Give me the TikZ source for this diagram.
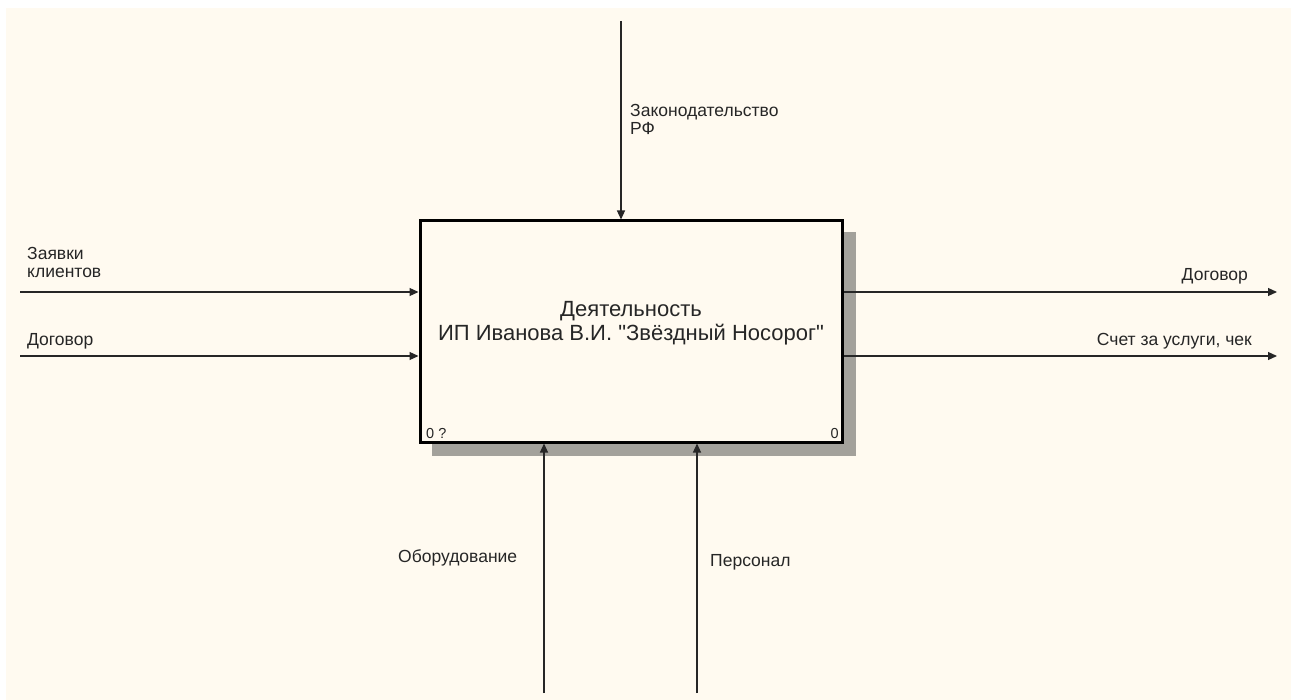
\documentclass[tikz,border=0pt]{standalone}
\usepackage{fontspec}
\setmainfont{Liberation Sans}
\usetikzlibrary{arrows.meta}
\definecolor{bgcream}{HTML}{FFFAF0}
\definecolor{shadowgray}{HTML}{A3A19B}
\newcommand\sq{\XeTeXglyph\XeTeXcharglyph"0022\relax}
\tikzset{
  flow/.style={line width=1.2pt, draw=black!85, -{Triangle[length=9pt,width=8pt]}},
  lbl/.style={font=\fontsize{17.5}{18.5}\selectfont, inner sep=0pt, align=left, text=black!85},
  lblr/.style={font=\fontsize{17.5}{18.5}\selectfont, inner sep=0pt, align=right, text=black!85},
  corner/.style={font=\fontsize{14.5}{16}\selectfont, inner sep=0pt, text=black!85},
  shadowfill/.style={fill=shadowgray}
}
\begin{document}
\begin{tikzpicture}[x=1pt,y=-1pt]
\useasboundingbox (0,0) rectangle (1297,700);
\fill[white] (0,0) rectangle (1297,700);
\fill[bgcream] (6,8) rectangle (1291,700);
% shadow
\fill[shadowfill] (432,442) rectangle (856,456);
\fill[shadowfill] (843,232) rectangle (856,456);
% box
\draw[line width=3pt, fill=bgcream] (420,221) rectangle (842,442);
\node[font=\fontsize{22}{23.5}\selectfont, align=center, inner sep=0pt, text=black!85, anchor=base] (title) at (631,340) {Деятельность\\ИП Иванова В.И. \sq Звёздный Носорог\sq};
\node[corner, anchor=south west] (nl) at (426,439) {0 ?};
\node[corner, anchor=south east] (nr) at (839,439) {0};
% connector ends
\coordinate (ctop) at (621,21);
\coordinate (ctopb) at (621,219.5);
\coordinate (in1s) at (20,292);
\coordinate (in1e) at (418.5,292);
\coordinate (in2s) at (20,356);
\coordinate (in2e) at (418.5,356);
\coordinate (out1s) at (843.5,292);
\coordinate (out1e) at (1277,292);
\coordinate (out2s) at (843.5,356);
\coordinate (out2e) at (1277,356);
\coordinate (m1s) at (544,693);
\coordinate (m1e) at (544,443.5);
\coordinate (m2s) at (697,693);
\coordinate (m2e) at (697,443.5);
\draw[flow] (ctop) -- (ctopb);
\draw[flow] (in1s) -- (in1e);
\draw[flow] (in2s) -- (in2e);
\draw[flow] (out1s) -- (out1e);
\draw[flow] (out2s) -- (out2e);
\draw[flow] (m1s) -- (m1e);
\draw[flow] (m2s) -- (m2e);
% labels
\node[lbl, anchor=base west] (lz) at (630,135) {Законодательство\\РФ};
\node[lbl, anchor=base west] (lzk) at (27,278) {Заявки\\клиентов};
\node[lbl, anchor=base west] (ld) at (27,345) {Договор};
\node[lblr, anchor=base east] (lo1) at (1248,281) {Договор};
\node[lblr, anchor=base east] (lo2) at (1252,345) {Счет за услуги, чек};
\node[lbl, anchor=base west] (lob) at (398,562) {Оборудование};
\node[lbl, anchor=base west] (lp) at (710,566) {Персонал};
\end{tikzpicture}
\end{document}
